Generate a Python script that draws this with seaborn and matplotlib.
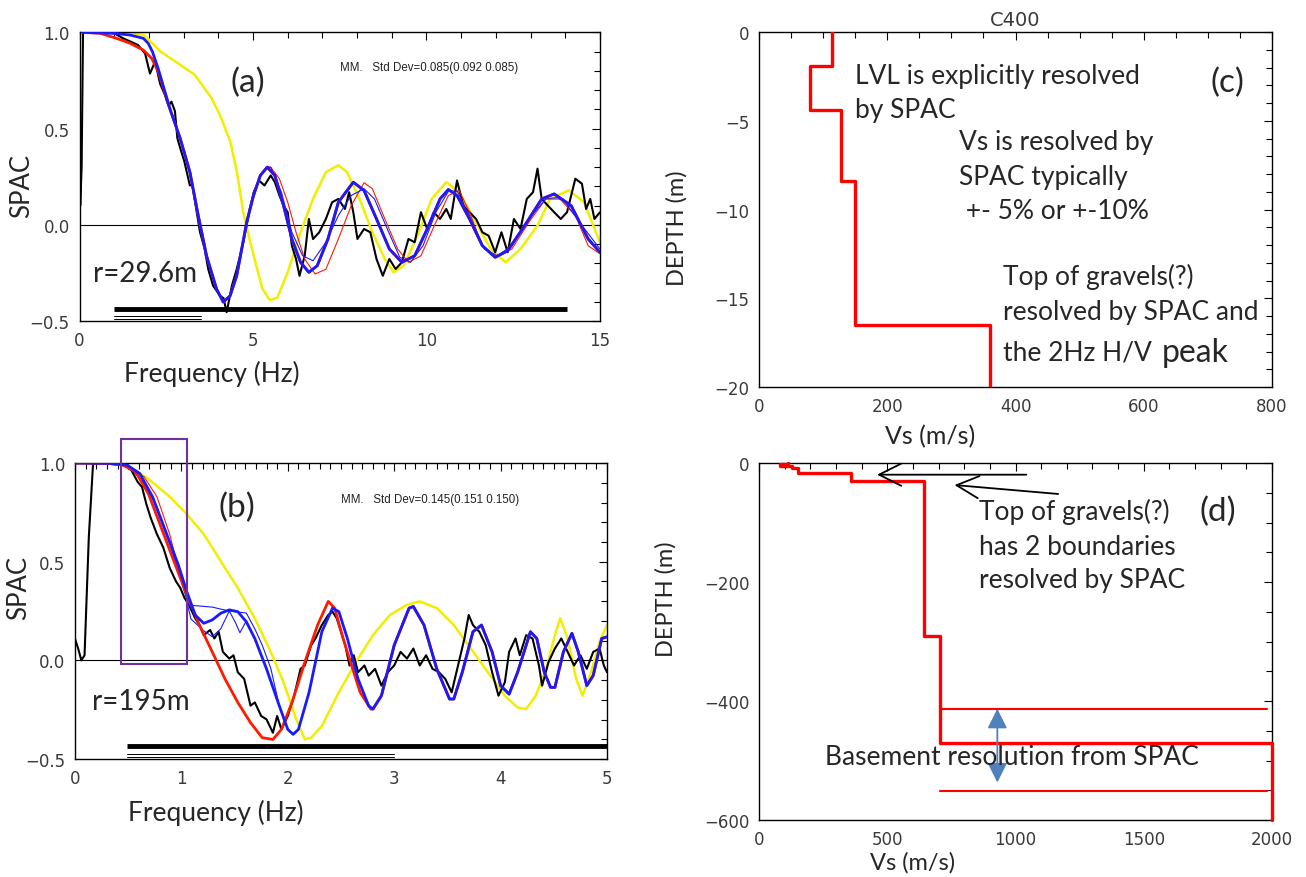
import numpy as np
import matplotlib
matplotlib.use("Agg")
import matplotlib.pyplot as plt
import seaborn as sns
from matplotlib.patches import Rectangle
from matplotlib.ticker import MultipleLocator

sns.set_theme(style="white")
plt.rcParams["font.family"] = ["Lato", "DejaVu Sans"]
plt.rcParams["axes.unicode_minus"] = True

# ---------------- SPAC data, ring r = 29.6 m (panel a) ----------------
a_obs = [(0.0, 0.45), (0.02, 0.10), (0.06, 0.30), (0.10, 1.0), (0.63, 1.0), (1.0, 0.995), (1.26, 0.969),
         (1.69, 0.934), (1.89, 0.89), (2.03, 0.786), (2.18, 0.85), (2.32, 0.734), (2.45, 0.68),
         (2.56, 0.62), (2.65, 0.64), (2.75, 0.59), (2.82, 0.45), (2.90, 0.40), (3.02, 0.33),
         (3.18, 0.205), (3.25, 0.21), (3.33, 0.12), (3.47, -0.036), (3.60, -0.12), (3.71, -0.23),
         (3.85, -0.316), (4.05, -0.368), (4.15, -0.38), (4.24, -0.453), (4.30, -0.40), (4.39, -0.316),
         (4.53, -0.23), (4.72, -0.09), (4.91, 0.083), (5.02, 0.17), (5.17, 0.231), (5.33, 0.205),
         (5.51, 0.257), (5.63, 0.222), (5.76, 0.153), (5.88, 0.10), (6.0, 0.066), (6.12, -0.108),
         (6.24, -0.177), (6.34, -0.264), (6.49, -0.16), (6.61, 0.031), (6.73, -0.073), (6.91, -0.038),
         (7.10, 0.031), (7.28, 0.118), (7.46, 0.135), (7.65, 0.083), (7.77, 0.17), (7.89, 0.066),
         (8.01, -0.073), (8.20, -0.021), (8.38, -0.038), (8.56, -0.177), (8.74, -0.264), (8.93, -0.177),
         (9.11, -0.229), (9.29, -0.194), (9.48, -0.073), (9.66, -0.09), (9.84, 0.066), (10.02, -0.021),
         (10.21, 0.066), (10.39, 0.031), (10.57, 0.083), (10.70, 0.031), (10.88, 0.231), (11.06, 0.10),
         (11.24, 0.066), (11.43, 0.031), (11.61, -0.038), (11.79, -0.056), (11.98, -0.142), (12.16, -0.038),
         (12.34, -0.142), (12.52, 0.031), (12.71, -0.021), (12.89, 0.135), (13.07, 0.17), (13.2, 0.292),
         (13.32, 0.135), (13.5, 0.10), (13.68, 0.066), (13.87, 0.031), (14.05, 0.066), (14.29, 0.24),
         (14.48, 0.214), (14.6, 0.083), (14.72, 0.135), (14.84, 0.031), (15.0, 0.066)]

a_yellow = [(0.1, 1.0), (1.37, 1.0), (1.85, 0.986), (2.34, 0.90), (2.83, 0.84), (3.32, 0.78), (3.80, 0.66),
            (4.05, 0.57), (4.35, 0.43), (4.54, 0.27), (4.72, 0.066), (4.90, -0.073), (5.09, -0.21),
            (5.27, -0.33), (5.48, -0.39), (5.70, -0.377), (6.0, -0.246), (6.37, -0.038), (6.73, 0.135),
            (7.10, 0.274), (7.46, 0.31), (7.71, 0.274), (8.07, 0.135), (8.44, -0.038), (8.80, -0.177),
            (9.05, -0.246), (9.35, -0.21), (9.78, -0.038), (10.15, 0.135), (10.57, 0.222), (10.94, 0.17),
            (11.37, 0.031), (11.85, -0.125), (12.28, -0.194), (12.71, -0.125), (13.2, -0.003), (13.56, 0.135),
            (14.1, 0.18), (14.54, 0.118), (15.0, -0.09)]

a_blue = [(0.1, 1.0), (1.0, 0.995), (1.46, 0.986), (1.84, 0.969), (1.98, 0.943), (2.10, 0.90), (2.27, 0.81),
          (2.61, 0.60), (2.90, 0.45), (3.18, 0.275), (3.42, 0.05), (3.66, -0.16), (3.95, -0.333),
          (4.14, -0.40), (4.34, -0.368), (4.53, -0.264), (4.82, 0.016), (5.01, 0.15), (5.21, 0.257),
          (5.41, 0.30), (5.63, 0.257), (5.88, 0.10), (6.12, -0.073), (6.37, -0.194), (6.61, -0.246),
          (6.85, -0.212), (7.16, -0.073), (7.46, 0.118), (7.89, 0.222), (8.20, 0.179), (8.56, 0.031),
          (8.93, -0.125), (9.29, -0.194), (9.66, -0.16), (10.02, -0.021), (10.39, 0.135), (10.63, 0.184),
          (10.88, 0.153), (11.24, 0.031), (11.61, -0.108), (11.98, -0.168), (12.34, -0.134), (12.83, -0.003),
          (13.32, 0.135), (13.68, 0.161), (14.17, 0.10), (14.66, -0.073), (15.0, -0.142)]

a_red_shoulder = [(0.1, 1.0), (0.6, 0.995), (1.07, 0.969), (1.46, 0.943), (1.84, 0.908), (2.08, 0.865),
                  (2.27, 0.795)]

a_red_thin = [(5.51, 0.30), (5.76, 0.24), (6.0, 0.118), (6.24, -0.038), (6.49, -0.177), (6.79, -0.255),
              (7.10, -0.23), (7.46, -0.073), (7.83, 0.10), (8.20, 0.219), (8.44, 0.188), (8.80, 0.031),
              (9.17, -0.125), (9.48, -0.194), (9.84, -0.16), (10.27, 0.014), (10.63, 0.153), (10.94, 0.179),
              (11.24, 0.066), (11.61, -0.108), (11.98, -0.168), (12.46, -0.125), (12.95, 0.014), (13.44, 0.135),
              (13.8, 0.144), (14.29, 0.049), (14.66, -0.108), (15.0, -0.15)]

a_blue_thin = [(5.51, 0.30), (5.82, 0.17), (6.12, -0.038), (6.43, -0.16), (6.73, -0.186), (7.10, -0.09),
               (7.46, 0.049), (7.83, 0.153), (8.20, 0.188), (8.50, 0.135), (8.87, -0.021), (9.23, -0.168),
               (9.54, -0.194), (9.90, -0.108), (10.27, 0.066), (10.63, 0.174), (10.88, 0.177), (11.24, 0.049),
               (11.67, -0.125), (12.04, -0.16), (12.46, -0.108), (12.95, 0.031), (13.44, 0.135), (13.93, 0.135),
               (14.41, 0.014), (15.0, -0.125)]

a_band_thick = [0.98, 14.05]
a_band_thin = [0.98, 3.5]

# ---------------- SPAC data, ring r = 195 m (panel b) ----------------
b_obs = [(0.0, 0.11), (0.03, 0.06), (0.06, 0.0), (0.09, 0.026), (0.13, 0.623), (0.17, 0.998), (0.29, 1.0),
         (0.45, 0.998), (0.53, 0.964), (0.59, 0.904), (0.63, 0.879), (0.67, 0.794), (0.71, 0.725),
         (0.77, 0.64), (0.83, 0.572), (0.89, 0.469), (0.95, 0.40), (0.99, 0.367), (1.03, 0.316),
         (1.07, 0.282), (1.13, 0.213), (1.17, 0.179), (1.21, 0.128), (1.27, 0.154), (1.31, 0.111),
         (1.35, 0.145), (1.39, 0.043), (1.45, 0.009), (1.49, 0.026), (1.53, -0.06), (1.59, -0.094),
         (1.65, -0.23), (1.69, -0.213), (1.75, -0.282), (1.80, -0.299), (1.86, -0.367), (1.90, -0.282),
         (1.94, -0.35), (2.0, -0.282), (2.06, -0.179), (2.12, -0.043), (2.16, -0.026), (2.22, 0.077),
         (2.26, 0.111), (2.32, 0.179), (2.38, 0.23), (2.42, 0.247), (2.46, 0.213), (2.50, 0.145),
         (2.54, 0.077), (2.58, -0.026), (2.62, 0.026), (2.66, -0.06), (2.72, -0.026), (2.76, -0.077),
         (2.82, -0.043), (2.88, -0.128), (2.94, -0.06), (3.0, -0.026), (3.06, 0.043), (3.12, 0.009),
         (3.18, 0.06), (3.24, -0.026), (3.30, 0.026), (3.36, -0.043), (3.42, -0.06), (3.48, -0.094),
         (3.54, -0.162), (3.60, -0.026), (3.66, 0.111), (3.70, 0.23), (3.74, 0.179), (3.80, 0.145),
         (3.86, 0.077), (3.92, -0.06), (3.98, -0.179), (4.04, -0.111), (4.08, 0.043), (4.14, 0.111),
         (4.18, 0.026), (4.24, 0.128), (4.30, 0.111), (4.36, -0.026), (4.39, -0.128), (4.45, -0.009),
         (4.51, 0.06), (4.57, 0.111), (4.63, 0.043), (4.69, -0.026), (4.75, 0.026), (4.81, -0.043),
         (4.87, 0.043), (4.93, 0.06), (4.97, -0.026), (5.0, -0.06)]

b_yellow = [(0.01, 1.0), (0.29, 1.0), (0.49, 0.99), (0.69, 0.92), (0.89, 0.83), (1.05, 0.742), (1.21, 0.64),
            (1.37, 0.503), (1.53, 0.367), (1.69, 0.213), (1.84, 0.043), (1.96, -0.111), (2.08, -0.299),
            (2.16, -0.40), (2.22, -0.392), (2.32, -0.333), (2.48, -0.162), (2.64, -0.009), (2.80, 0.128),
            (2.96, 0.23), (3.12, 0.282), (3.24, 0.299), (3.40, 0.265), (3.56, 0.179), (3.72, 0.06),
            (3.88, -0.06), (4.04, -0.179), (4.16, -0.239), (4.24, -0.247), (4.33, -0.179), (4.43, -0.043),
            (4.51, 0.128), (4.56, 0.213), (4.63, 0.111), (4.71, -0.094), (4.77, -0.179), (4.85, -0.06),
            (4.93, 0.094), (5.0, 0.179)]

b_red = [(0.01, 1.0), (0.29, 1.0), (0.45, 0.99), (0.57, 0.956), (0.69, 0.845), (0.81, 0.674), (0.93, 0.503),
         (1.05, 0.333), (1.17, 0.179), (1.29, 0.043), (1.41, -0.094), (1.53, -0.213), (1.65, -0.316),
         (1.76, -0.392), (1.86, -0.401), (1.94, -0.35), (2.04, -0.213), (2.16, -0.009), (2.28, 0.179),
         (2.38, 0.299), (2.44, 0.265), (2.52, 0.111), (2.60, -0.026), (2.68, -0.162), (2.78, -0.247)]

b_blue = [(0.01, 1.0), (0.29, 1.0), (0.49, 0.99), (0.61, 0.947), (0.73, 0.828), (0.85, 0.657), (0.97, 0.486),
          (1.05, 0.35), (1.13, 0.23), (1.21, 0.188), (1.29, 0.205), (1.37, 0.239), (1.45, 0.256),
          (1.53, 0.247), (1.61, 0.196), (1.69, 0.111), (1.80, -0.043), (1.92, -0.23), (2.0, -0.35),
          (2.05, -0.375), (2.10, -0.35), (2.20, -0.162), (2.32, 0.145), (2.42, 0.265), (2.48, 0.247),
          (2.56, 0.111), (2.66, -0.094), (2.76, -0.23), (2.80, -0.247), (2.88, -0.179), (3.0, 0.077),
          (3.14, 0.265), (3.18, 0.273), (3.28, 0.179), (3.40, -0.043), (3.52, -0.196), (3.56, -0.196),
          (3.64, -0.06), (3.74, 0.145), (3.82, 0.179), (3.92, 0.043), (4.0, -0.128), (4.08, -0.171),
          (4.16, -0.06), (4.28, 0.145), (4.34, 0.111), (4.41, -0.06), (4.47, -0.137), (4.51, -0.137),
          (4.59, 0.043), (4.67, 0.137), (4.73, 0.043), (4.81, -0.128), (4.87, -0.077), (4.95, 0.111),
          (5.0, 0.119)]

b_red_thin = [(0.01, 1.0), (0.49, 0.99), (0.65, 0.93), (0.77, 0.83), (0.89, 0.64), (0.97, 0.47),
              (1.05, 0.34), (1.13, 0.23), (1.17, 0.179)]

b_blue_thin1 = [(0.01, 1.0), (0.49, 0.99), (0.65, 0.90), (0.77, 0.78), (0.89, 0.60), (0.97, 0.45),
                (1.05, 0.31), (1.07, 0.28), (1.29, 0.27), (1.45, 0.25), (1.61, 0.24), (1.69, 0.16),
                (1.76, 0.077), (1.84, -0.04)]

b_blue_thin2 = [(1.05, 0.30), (1.09, 0.21), (1.21, 0.15), (1.29, 0.12), (1.37, 0.16), (1.45, 0.25),
                (1.51, 0.19), (1.55, 0.14), (1.61, 0.20), (1.69, 0.11), (1.80, -0.043)]

b_band_thick = [0.49, 5.0]
b_band_thin = [0.49, 3.0]
b_box_f = [0.43, 1.056]
b_box_v = [-0.02, 1.12]

# ---------------- Vs profiles ----------------
c_vs = [113, 80, 128, 150, 360]
c_top = [0.0, 1.9, 4.4, 8.4, 16.5]
c_base = 20.0

d_vs = [113, 80, 128, 150, 360, 645, 705, 2000]
d_top = [0.0, 1.9, 4.4, 8.4, 16.5, 31.0, 290.0, 470.0]
d_base = 600.0
d_basement_bounds = [413.0, 551.0]
d_bounds_vs = [706, 1980]

TICK_FONT = "DejaVu Sans"
TICK_COLOR = "#3a3a3a"
NOTE = 19


def xy(pairs):
    arr = np.asarray(pairs, dtype=float)
    return arr[:, 0], arr[:, 1]


def draw(ax, f, v, color, lw, z):
    sns.lineplot(x=f, y=v, ax=ax, color=color, linewidth=lw, sort=False,
                 estimator=None, zorder=z, legend=False)


def join(head, tail, after):
    hf, hv = xy(head)
    tf, tv = xy(tail)
    m = tf > after
    return np.concatenate([hf, tf[m]]), np.concatenate([hv, tv[m]])


def frame(ax, xmaj, xmin, ymaj, ymin):
    ax.xaxis.set_major_locator(MultipleLocator(xmaj))
    ax.xaxis.set_minor_locator(MultipleLocator(xmin))
    ax.yaxis.set_major_locator(MultipleLocator(ymaj))
    ax.yaxis.set_minor_locator(MultipleLocator(ymin))
    ax.tick_params(which="both", direction="in", top=True, right=True,
                   color="black", width=0.8, labelsize=12, labelcolor=TICK_COLOR,
                   labelfontfamily=TICK_FONT)
    ax.tick_params(which="major", length=6, pad=7)
    ax.tick_params(which="minor", length=4)
    for s in ax.spines.values():
        s.set_color("black")
        s.set_linewidth(1.0)
    ax.set_facecolor("white")


fig = plt.figure(figsize=(13.06, 8.78), dpi=100)
fig.patch.set_facecolor("white")

ax_a = fig.add_axes([0.0609, 0.633, 0.3985, 0.329])
ax_b = fig.add_axes([0.0574, 0.1344, 0.4074, 0.337])
ax_c = fig.add_axes([0.5812, 0.558, 0.3928, 0.4043])
ax_d = fig.add_axes([0.5812, 0.0649, 0.3928, 0.4066])

YEL = "#f2ee00"
RED = "#ff1a00"
BLU = "#1a1aff"

# ---------- panel (a) ----------
ax = ax_a
ax.axhline(0, color="black", lw=0.8, zorder=1)
draw(ax, *xy(a_yellow), YEL, 1.8, 2)
draw(ax, *xy(a_obs), "black", 1.5, 3)
draw(ax, *join(a_blue[:20], a_red_thin, 5.45), RED, 0.8, 4)
draw(ax, *join(a_blue[:20], a_blue_thin, 5.45), BLU, 0.8, 4)
draw(ax, *join(a_red_shoulder, a_blue, 2.3), RED, 2.0, 5)
draw(ax, *xy(a_blue), BLU, 2.0, 6)
ax.plot(a_band_thick, [-0.434, -0.434], color="black", lw=3.5, solid_capstyle="butt", zorder=7)
for yv in (-0.474, -0.49):
    ax.plot(a_band_thin, [yv, yv], color="black", lw=0.7, zorder=7)
ax.set_xlim(0, 15)
ax.set_ylim(-0.5, 1.0)
frame(ax, 5, 1, 0.5, 0.1)
ax.set_xlabel("Frequency (Hz)", fontsize=19)
ax.set_ylabel("SPAC", fontsize=18.5)
ax.xaxis.set_label_coords(0.254, -0.135)
ax.yaxis.set_label_coords(-0.088, 0.47)
ax.text(4.84, 0.743, "(a)", fontsize=24, ha="center", va="center")
ax.text(0.375, -0.247, "r=29.6m", fontsize=20, ha="left", va="center")
ax.text(7.52, 0.82, "MM.   Std Dev=0.085(0.092 0.085)", fontsize=8.3, ha="left", va="center",
        family="Liberation Sans", color="#222222")

# ---------- panel (b) ----------
ax = ax_b
ax.axhline(0, color="black", lw=0.8, zorder=1)
draw(ax, *xy(b_yellow), YEL, 1.8, 2)
draw(ax, *xy(b_obs), "black", 1.5, 3)
draw(ax, *xy(b_red_thin), RED, 0.8, 4)
draw(ax, *join(b_blue_thin1, b_blue, 1.85), BLU, 0.8, 4)
draw(ax, *xy(b_blue_thin2), BLU, 0.8, 4)
draw(ax, *join(b_red, b_blue, 2.79), RED, 2.0, 5)
draw(ax, *xy(b_blue), BLU, 2.0, 6)
ax.plot(b_band_thick, [-0.435, -0.435], color="black", lw=3.5, solid_capstyle="butt", zorder=7,
        clip_on=False)
for yv in (-0.476, -0.492):
    ax.plot(b_band_thin, [yv, yv], color="black", lw=0.7, zorder=7)
ax.add_patch(Rectangle((b_box_f[0], b_box_v[0]), b_box_f[1] - b_box_f[0], b_box_v[1] - b_box_v[0],
                       fill=False, edgecolor="#7030a0", lw=1.5, clip_on=False, zorder=8))
ax.set_xlim(0, 5)
ax.set_ylim(-0.5, 1.0)
frame(ax, 1, 0.1, 0.5, 0.1)
ax.set_xlabel("Frequency (Hz)", fontsize=19)
ax.set_ylabel("SPAC", fontsize=18.5)
ax.xaxis.set_label_coords(0.265, -0.136)
ax.yaxis.set_label_coords(-0.082, 0.58)
ax.text(1.526, 0.776, "(b)", fontsize=24, ha="center", va="center")
ax.text(0.163, -0.205, "r=195m", fontsize=20, ha="left", va="center")
ax.text(2.50, 0.819, "MM.   Std Dev=0.145(0.151 0.150)", fontsize=8.3, ha="left", va="center",
        family="Liberation Sans", color="#222222")


def profile(vs, top, base):
    bottoms = list(top[1:]) + [base]
    px, py = [], []
    for v, t, b in zip(vs, top, bottoms):
        px += [v, v]
        py += [-t, -b]
    return np.array(px, float), np.array(py, float)


# ---------- panel (c) ----------
ax = ax_c
px, py = profile(c_vs, c_top, c_base)
draw(ax, px, py, "#ff0000", 2.4, 3)
ax.set_xlim(0, 800)
ax.set_ylim(-20, 0)
frame(ax, 200, 50, 5, 1)
ax.set_title("C400", fontsize=14, family=TICK_FONT, color=TICK_COLOR, pad=5)
ax.set_xlabel("Vs (m/s)", fontsize=18)
ax.set_ylabel("DEPTH (m)", fontsize=17)
ax.xaxis.set_label_coords(0.333, -0.104)
ax.yaxis.set_label_coords(-0.14, 0.45)
ax.text(150, -2.42, "LVL is explicitly resolved", fontsize=NOTE, va="center")
ax.text(150, -4.34, "by SPAC", fontsize=NOTE, va="center")
ax.text(312, -6.14, "Vs is resolved by", fontsize=NOTE, va="center")
ax.text(312, -8.11, "SPAC typically", fontsize=NOTE, va="center")
ax.text(312, -10.03, " +- 5% or +-10%", fontsize=NOTE, va="center")
ax.text(380, -13.75, "Top of gravels(?)", fontsize=NOTE, va="center")
ax.text(380, -15.72, "resolved by SPAC and", fontsize=NOTE, va="center")
hv = ax.text(380, -18.03, "the 2Hz H/V", fontsize=NOTE, va="center")
ax.text(731, -2.82, "(c)", fontsize=24, ha="center", va="center")

# ---------- panel (d) ----------
ax = ax_d
px, py = profile(d_vs, d_top, d_base)
draw(ax, px, py, "#ff0000", 2.4, 3)
ax.lines[-1].set_clip_on(False)
for dep in d_basement_bounds:
    ax.plot(d_bounds_vs, [-dep, -dep], color="#ff0000", lw=1.5, zorder=3)
ax.annotate("", xy=(929, -d_basement_bounds[0]), xytext=(929, -537),
            arrowprops=dict(arrowstyle="<|-|>", color="#4f81bd", lw=1.3, mutation_scale=30,
                            shrinkA=0, shrinkB=0), zorder=4)
ax.annotate("", xy=(460, -19.6), xytext=(1042, -19.6),
            arrowprops=dict(arrowstyle="->", color="black", lw=1.3, mutation_scale=40,
                            shrinkA=0, shrinkB=0))
ax.annotate("", xy=(762, -37), xytext=(1166, -52),
            arrowprops=dict(arrowstyle="->", color="black", lw=1.3, mutation_scale=40,
                            shrinkA=0, shrinkB=0))
ax.set_xlim(0, 2000)
ax.set_ylim(-600, 0)
frame(ax, 500, 100, 200, 50)
ax.set_xlabel("Vs (m/s)", fontsize=17)
ax.set_ylabel("DEPTH (m)", fontsize=17)
ax.xaxis.set_label_coords(0.30, -0.086)
ax.yaxis.set_label_coords(-0.16, 0.62)
ax.text(858, -80.7, "Top of gravels(?)", fontsize=NOTE, va="center")
ax.text(858, -139.5, "has 2 boundaries", fontsize=NOTE, va="center")
ax.text(858, -195, "resolved by SPAC", fontsize=NOTE, va="center")
ax.text(1789, -80.7, "(d)", fontsize=24, ha="center", va="center")
ax.text(257, -494, "Basement resolution from SPAC", fontsize=NOTE, va="center", zorder=5)

# "peak" follows the H/V line in a larger size
fig.canvas.draw()
bb = hv.get_window_extent()
px0 = ax_c.transData.inverted().transform((bb.x1 + 10, 0))[0]
ax_c.text(px0, -18.0, "peak", fontsize=NOTE + 4, va="center")

fig.savefig("out.png", dpi=100, facecolor="white")
